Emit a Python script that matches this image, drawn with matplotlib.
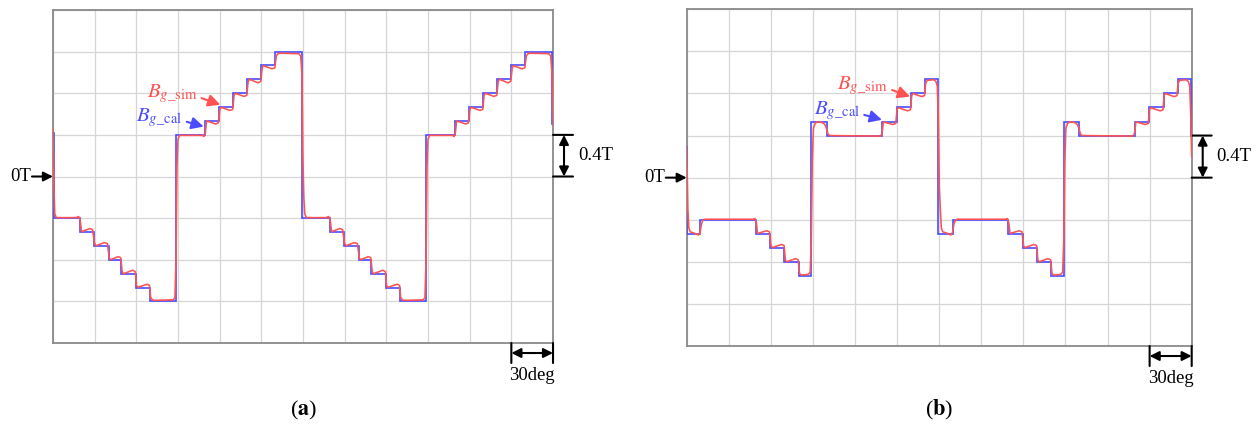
import matplotlib
matplotlib.use("Agg")
import matplotlib.pyplot as plt
import matplotlib.transforms as mtransforms

plt.rcParams['font.family'] = ['Liberation Serif', 'DejaVu Serif']
plt.rcParams['mathtext.fontset'] = 'stix'

# air-gap flux density, angle in deg, value in T
# (a) calculated waveform: step edges and levels
cal_a_edges = [0, 0.4, 19.2, 29.5, 40.2, 49.3, 59.6, 69.7, 88.6, 109.2, 119.6, 129.7, 139.9, 150.0, 160.1,
               179.4, 199.2, 209.5, 220.2, 229.3, 239.6, 249.7, 268.6, 289.2, 299.6, 309.7, 319.9, 330.0,
               340.1, 359.6, 360]
cal_a_vals = [0.42, -0.4, -0.533, -0.667, -0.8, -0.933, -1.067, -1.2, 0.4, 0.533, 0.667, 0.8, 0.933, 1.067,
              1.2, -0.4, -0.533, -0.667, -0.8, -0.933, -1.067, -1.2, 0.4, 0.533, 0.667, 0.8, 0.933, 1.067,
              1.2, 0.5]

# (a) simulated waveform
sim_a_deg = [0, 0.7, 1.3, 2.5, 16.5, 18.5, 19.5, 20.6, 26.5, 28.5, 29.9, 30.9, 37, 39.2, 40.5, 41.3, 47,
             48.8, 49.8, 50.6, 57.5, 59.3, 60.1, 61, 67.8, 69.5, 70.3, 71.5, 73, 86.5, 87.8, 88.6, 89.3, 90.0,
             91.2, 107.5, 108.8, 109.7, 110.6, 117, 119, 120.2, 121, 127.5, 129.4, 130.4, 131.2, 137.5,
             139.5, 140.5, 141.3, 147.7, 149.6, 150.6, 151.4, 157.8, 159.7, 160.8, 162, 163.5, 177, 178.3,
             179.2, 179.9, 180.6, 181.3, 182.5,
             196.5, 198.5, 199.5, 200.6, 206.5, 208.5, 209.9, 210.9, 217, 219.2, 220.5, 221.3, 227, 228.8,
             229.8, 230.6, 237.5, 239.3, 240.1, 241, 247.8, 249.5, 250.3, 251.5, 253, 266.5, 267.8, 268.6,
             269.3, 270, 271.2, 287.5, 288.8, 289.7, 290.6, 297, 299, 300.2, 301, 307.5, 309.4, 310.4,
             311.2, 317.5, 319.5, 320.5, 321.3, 327.7, 329.6, 330.6, 331.4, 337.8, 339.7, 340.8, 342, 343.5,
             357, 358.3, 359.2, 360]
sim_a_val = [0.45, -0.1, -0.36, -0.395, -0.395, -0.385, -0.41, -0.53, -0.50, -0.51, -0.64, -0.665, -0.635,
             -0.645, -0.78, -0.8, -0.77, -0.78, -0.91, -0.935, -0.9, -0.915, -1.04, -1.065, -1.035, -1.045,
             -1.16, -1.185, -1.19, -1.185, -1.165, -0.8, 0.1, 0.36, 0.395, 0.395, 0.385, 0.42, 0.535, 0.505,
             0.515, 0.645, 0.665, 0.635, 0.645, 0.78, 0.8, 0.77, 0.78, 0.91, 0.935, 0.9, 0.915, 1.04, 1.065,
             1.035, 1.045, 1.16, 1.18, 1.185, 1.18, 1.16, 1.0, 0.2, -0.2, -0.36, -0.395,
             -0.395, -0.385, -0.41, -0.53, -0.50, -0.51, -0.64, -0.665, -0.635, -0.645, -0.78, -0.8, -0.77,
             -0.78, -0.91, -0.935, -0.9, -0.915, -1.04, -1.065, -1.035, -1.045, -1.16, -1.185, -1.19,
             -1.185, -1.165, -0.8, 0.1, 0.36, 0.395, 0.395, 0.385, 0.42, 0.535, 0.505, 0.515, 0.645, 0.665,
             0.635, 0.645, 0.78, 0.8, 0.77, 0.78, 0.91, 0.935, 0.9, 0.915, 1.04, 1.065, 1.035, 1.045, 1.16,
             1.18, 1.185, 1.18, 1.16, 1.0, 0.5]

# (b) calculated waveform
cal_b_edges = [0, 0.4, 9.8, 49.2, 59.5, 69.6, 79.7, 88.8, 99.8, 139.4, 149.6, 160, 170, 179.4, 189.8,
               229.2, 239.5, 249.6, 259.7, 268.8, 279.8, 319.4, 329.6, 340, 350, 359.6, 360]
cal_b_vals = [0.3, -0.533, -0.4, -0.533, -0.667, -0.8, -0.933, 0.533, 0.4, 0.533, 0.667, 0.8, 0.933,
              -0.533, -0.4, -0.533, -0.667, -0.8, -0.933, 0.533, 0.4, 0.533, 0.667, 0.8, 0.933, 0.4]

# (b) simulated waveform
sim_b_deg = [0, 0.8, 1.5, 2.5, 5, 8.3, 9.5, 10.5, 11.5, 13, 47.5, 48.6, 49.6, 50.5, 57, 59, 60.1, 61, 67.5,
             69.4, 70.3, 71.1, 77.5, 79.4, 80.4, 81.5, 86.5, 88, 88.8, 89.5, 90.3, 91.5, 93, 96.5, 98.5,
             99.7, 100.7, 102, 138.2, 139.2, 140.2, 147, 149, 149.9, 150.7, 157.5, 159.5, 160.4, 161.2,
             167.5, 169.5, 170.4, 171.5, 176, 177.6, 178.6, 179.3, 180.1, 180.8, 181.5, 182.5, 185, 188.3,
             189.5, 190.5, 191.5, 193, 227.5, 228.6, 229.6, 230.5, 237, 239, 240.1, 241, 247.5, 249.4,
             250.3, 251.1, 257.5, 259.4, 260.4, 261.5, 266.5, 268, 268.8, 269.5, 270.3, 271.5, 273, 276.5,
             278.5, 279.7, 280.7, 282, 318.2, 319.2, 320.2, 327, 329, 329.9, 330.7, 337.5, 339.5, 340.4,
             341.2, 347.5, 349.5, 350.4, 351.5, 356, 357.6, 358.6, 359.3, 360]
sim_b_val = [0.3, -0.3, -0.48, -0.515, -0.525, -0.545, -0.52, -0.44, -0.405, -0.395, -0.395, -0.388, -0.43,
             -0.53, -0.505, -0.515, -0.645, -0.665, -0.635, -0.645, -0.78, -0.8, -0.77, -0.78, -0.91,
             -0.925, -0.92, -0.9, -0.6, 0.15, 0.47, 0.515, 0.53, 0.525, 0.505, 0.465, 0.415, 0.4, 0.395,
             0.42, 0.53, 0.505, 0.515, 0.645, 0.665, 0.635, 0.645, 0.78, 0.8, 0.77, 0.78, 0.9, 0.925, 0.93,
             0.915, 0.87, 0.6, -0.1, -0.3, -0.48, -0.515, -0.525, -0.545, -0.52, -0.44, -0.405, -0.395,
             -0.395, -0.388, -0.43, -0.53, -0.505, -0.515, -0.645, -0.665, -0.635, -0.645, -0.78, -0.8,
             -0.77, -0.78, -0.91, -0.925, -0.92, -0.9, -0.6, 0.15, 0.47, 0.515, 0.53, 0.525, 0.505, 0.465,
             0.415, 0.4, 0.395, 0.42, 0.53, 0.505, 0.515, 0.645, 0.665, 0.635, 0.645, 0.78, 0.8, 0.77,
             0.78, 0.9, 0.925, 0.93, 0.915, 0.87, 0.6, 0.2]

grid_deg = [0, 30, 60, 90, 120, 150, 180, 210, 240, 270, 300, 330, 360]
grid_T = [-1.6, -1.2, -0.8, -0.4, 0, 0.4, 0.8, 1.2, 1.6]

BLUE = '#4b4bff'
RED = '#ff5252'

fig = plt.figure(figsize=(12.58, 4.30), dpi=100)
ax_a = fig.add_axes([0.0421, 0.2023, 0.3975, 0.7744])
ax_b = fig.add_axes([0.5459, 0.1953, 0.4014, 0.7831])


def draw_panel(ax, edges, vals, sdeg, sval, sim_lbl, cal_lbl, caption, cap_x):
    ax.set_xlim(0, 360)
    ax.set_ylim(-1.6, 1.6)
    ax.set_xticks(grid_deg)
    ax.set_yticks(grid_T)
    ax.tick_params(length=0, labelbottom=False, labelleft=False)
    ax.grid(True, color='#d6d6d6', lw=0.9)
    ax.set_axisbelow(True)
    for sp in ax.spines.values():
        sp.set_color('#8a8a8a')
        sp.set_linewidth(1.3)

    ax.stairs(vals, edges, baseline=None, color=BLUE, lw=1.2, zorder=3)
    ax.plot(sdeg, sval, color=RED, lw=1.15, zorder=4)

    # curve labels
    ax.annotate(r'$B_{g\_\mathrm{sim}}$', xy=sim_lbl[0], xytext=sim_lbl[1], color=RED, fontsize=15,
                ha='right', va='center', zorder=5,
                arrowprops=dict(arrowstyle='-|>', color=RED, lw=1.5, mutation_scale=18,
                                shrinkA=1, shrinkB=0, relpos=(1.0, 0.35)))
    ax.annotate(r'$B_{g\_\mathrm{cal}}$', xy=cal_lbl[0], xytext=cal_lbl[1], color=BLUE, fontsize=15,
                ha='right', va='center', zorder=5,
                arrowprops=dict(arrowstyle='-|>', color=BLUE, lw=1.5, mutation_scale=18,
                                shrinkA=1, shrinkB=0, relpos=(1.0, 0.35)))

    akw = dict(color='k', lw=1.5, shrinkA=0, shrinkB=0)

    # 0T marker on the left
    ax.annotate('', xy=(0, 0), xytext=(-21, 0), textcoords='offset pixels',
                arrowprops=dict(arrowstyle='-|>', mutation_scale=14, **akw), annotation_clip=False)
    ax.annotate('0T', xy=(0, 0), xytext=(-22, 0), textcoords='offset pixels', ha='right', va='center',
                fontsize=13.5, annotation_clip=False)

    # 0.4T scale bracket on the right
    for yv in (0.4, 0.0):
        ax.annotate('', xy=(360, yv), xytext=(20, 0), textcoords='offset pixels',
                    arrowprops=dict(arrowstyle='-', **akw), annotation_clip=False)
    tr_v = mtransforms.offset_copy(ax.transData, fig=fig, x=11, y=0, units='dots')
    ax.annotate('', xy=(360, 0.4), xycoords=tr_v, xytext=(360, 0.0), textcoords=tr_v,
                arrowprops=dict(arrowstyle='<|-|>', mutation_scale=14, **akw), annotation_clip=False)
    ax.annotate('0.4T', xy=(360, 0.2), xytext=(25, 0), textcoords='offset pixels', ha='left',
                va='center', fontsize=13.5, annotation_clip=False)

    # 30deg scale bracket below
    for xv in (330, 360):
        ax.annotate('', xy=(xv, -1.6), xytext=(0, -20), textcoords='offset pixels',
                    arrowprops=dict(arrowstyle='-', **akw), annotation_clip=False)
    tr_h = mtransforms.offset_copy(ax.transData, fig=fig, x=0, y=-10, units='dots')
    ax.annotate('', xy=(330, -1.6), xycoords=tr_h, xytext=(360, -1.6), textcoords=tr_h,
                arrowprops=dict(arrowstyle='<|-|>', mutation_scale=14, **akw), annotation_clip=False)
    ax.annotate('30deg', xy=(345, -1.6), xytext=(0, -32), textcoords='offset pixels', ha='center',
                va='center', fontsize=13.5, annotation_clip=False)

    fig.text(cap_x, 0.046, caption, ha='center', va='center', fontsize=16)


draw_panel(ax_a, cal_a_edges, cal_a_vals, sim_a_deg, sim_a_val,
           ((120.5, 0.69), (104, 0.80)), ((108.5, 0.48), (93.4, 0.57)),
           r'($\mathbf{a}$)', 0.241)
draw_panel(ax_b, cal_b_edges, cal_b_vals, sim_b_deg, sim_b_val,
           ((159.2, 0.77), (143.5, 0.88)), ((139.2, 0.55), (123.6, 0.64)),
           r'($\mathbf{b}$)', 0.7464)

fig.savefig('out.png', dpi=100)
